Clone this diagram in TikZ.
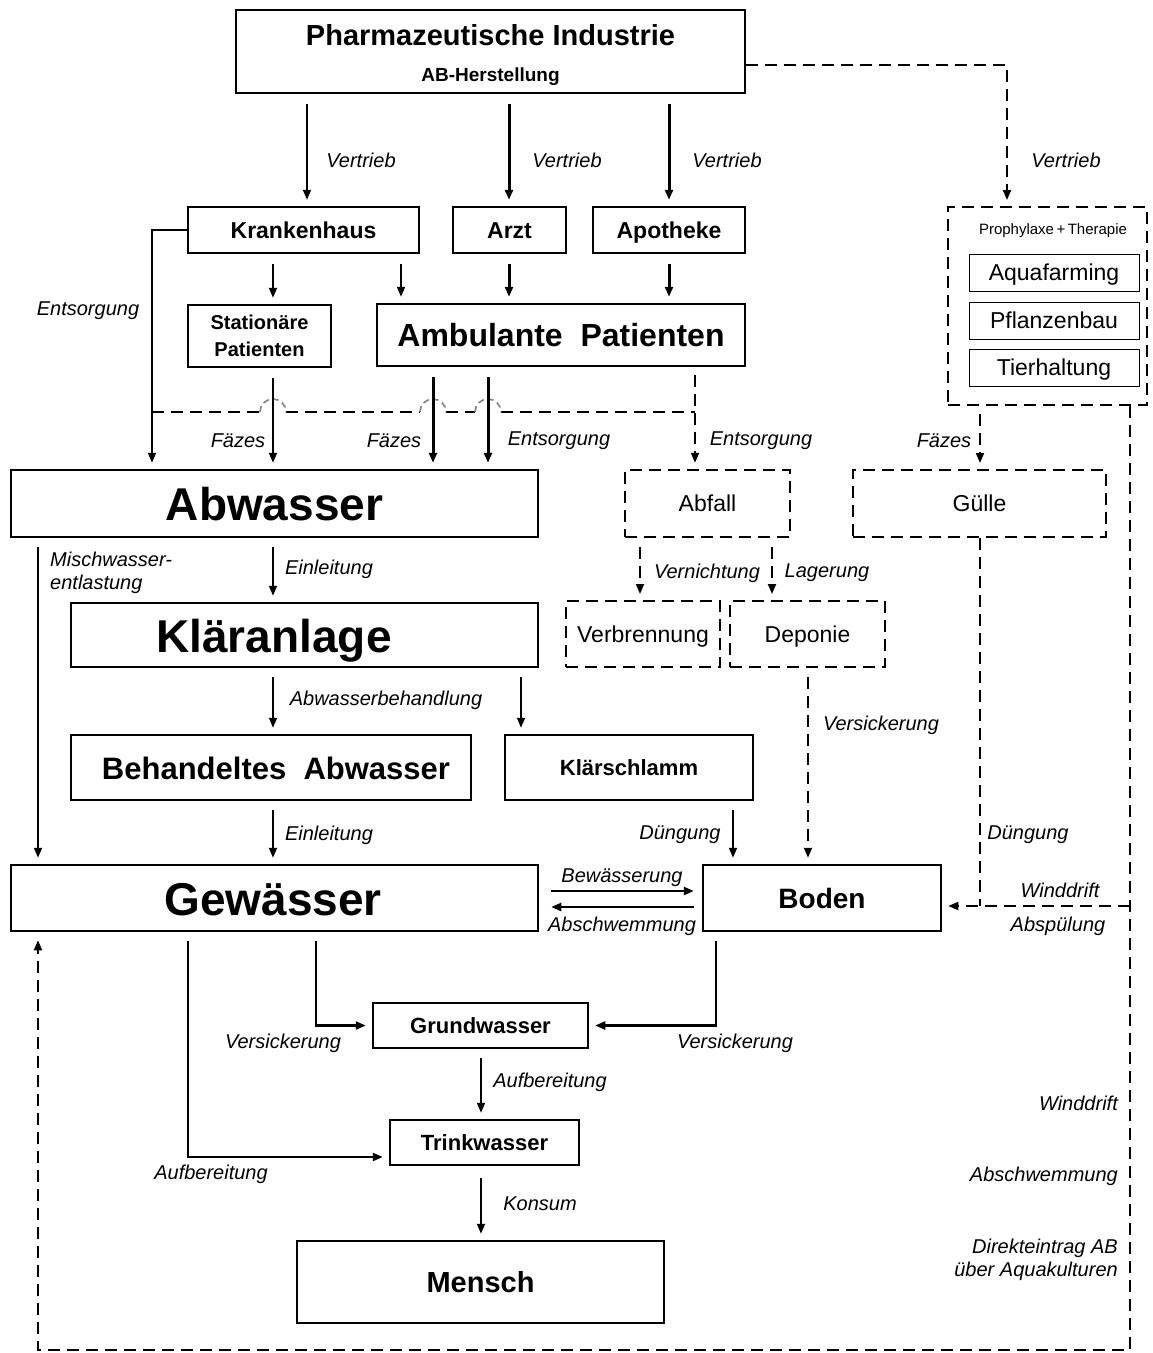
\documentclass[tikz,border=0pt]{standalone}
\usepackage{fontspec}
\setmainfont{Liberation Sans}
\usetikzlibrary{arrows.meta}
\newcommand{\fs}[1]{\fontsize{#1}{#1}\selectfont}
\begin{document}
\begin{tikzpicture}[x=1pt,y=-1pt,
  bf/.style={font=\bfseries\fs{#1}, text height={0.72*#1pt}, text depth=0pt},
  rg/.style={font=\fs{#1}, text height={0.72*#1pt}, text depth=0pt},
  box/.style={draw, line width=2.5pt, inner sep=0pt, align=center},
  dbox/.style={draw, line width=2pt, dash pattern=on 12pt off 7pt, inner sep=0pt, align=center},
  ibox/.style={draw, line width=1pt, inner sep=0pt, align=center, rg=23},
  tip/.style={-{Triangle[length=10pt,width=8pt]}},
  arr/.style={tip, line width=1.8pt, shorten >=6pt},
  tarr/.style={tip, line width=3pt, shorten >=6pt},
  darr/.style={tip, line width=1.8pt, dash pattern=on 12pt off 7pt, shorten >=6pt},
  dline/.style={line width=1.8pt, dash pattern=on 12pt off 7pt},
  hump/.style={line width=1.6pt, gray, dash pattern=on 6pt off 4pt},
  lab/.style={font=\itshape\fs{20}, inner sep=0pt},
]
\useasboundingbox[fill=white] (0,0) rectangle (1153,1353);

% boxes
\node[box, minimum width=509pt, minimum height=83pt] (pharma) at (490.5,51.5) {};
\node[inner sep=0pt, bf=29] (pharmaA) at (490.5,35) {Pharmazeutische Industrie};
\node[inner sep=0pt, bf=19] (pharmaB) at (490.5,75) {AB-Herstellung};
\node[box, minimum width=231pt, minimum height=46pt, bf=23] (kh) at (303.5,230) {Krankenhaus};
\node[box, minimum width=113pt, minimum height=46pt, bf=23] (arzt) at (509.5,230) {Arzt};
\node[box, minimum width=152pt, minimum height=46pt, bf=23] (apo) at (669,230) {Apotheke};
\node[box, minimum width=143pt, minimum height=62pt, font=\bfseries\fontsize{20}{27}\selectfont] (stat) at (259.5,336) {Stationäre\\Patienten};
\node[box, minimum width=368pt, minimum height=62pt, bf=32] (amb) at (561,335) {Ambulante\ \ Patienten};
\node[box, minimum width=527pt, minimum height=67pt, bf=46] (abw) at (274.5,503.5) {Abwasser};
\node[box, minimum width=467pt, minimum height=64pt] (klaer) at (304.5,635) {};
\node[inner sep=0pt, bf=46] (klaerT) at (274,636) {Kläranlage};
\node[box, minimum width=400pt, minimum height=65pt] (beh) at (271,767.5) {};
\node[inner sep=0pt, bf=31] (behT) at (276,768) {Behandeltes\ \ Abwasser};
\node[box, minimum width=248pt, minimum height=65pt, bf=22] (kls) at (629,767.5) {Klärschlamm};
\node[box, minimum width=527pt, minimum height=66pt] (gew) at (274.5,898) {};
\node[inner sep=0pt, bf=46] (gewT) at (273,899) {Gewässer};
\node[box, minimum width=238pt, minimum height=66pt, bf=28] (boden) at (822,898) {Boden};
\node[box, minimum width=215pt, minimum height=45pt, bf=22] (grund) at (480.5,1025.5) {Grundwasser};
\node[box, minimum width=189pt, minimum height=45pt, bf=22] (trink) at (484.5,1142.5) {Trinkwasser};
\node[box, minimum width=367pt, minimum height=82pt, bf=29] (mensch) at (480.5,1282) {Mensch};

% dashed boxes
\node[dbox, minimum width=199pt, minimum height=198pt] (proph) at (1047.5,306) {};
\node[inner sep=0pt, rg=15] (prophT) at (1053,229) {Prophylaxe\,+\,Therapie};
\node[ibox, minimum width=170pt, minimum height=37pt] (aqua) at (1054,272.5) {Aquafarming};
\node[ibox, minimum width=170pt, minimum height=37pt] (pfl) at (1054,320.5) {Pflanzenbau};
\node[ibox, minimum width=170pt, minimum height=37pt] (tier) at (1054,367.5) {Tierhaltung};
\node[dbox, line width=2.4pt, minimum width=165pt, minimum height=67pt, rg=23] (abfall) at (707.5,503.5) {Abfall};
\node[dbox, minimum width=253pt, minimum height=67pt, rg=23] (guelle) at (979.5,503.5) {Gülle};
\node[dbox, minimum width=154pt, minimum height=66pt, rg=23] (verb) at (643,634) {Verbrennung};
\node[dbox, minimum width=155pt, minimum height=66pt, rg=23] (dep) at (807.5,634) {Deponie};

% Vertrieb
\draw[arr, shorten <=10pt] (307,0 |- pharma.south) -- (307,0 |- kh.north);
\draw[tarr, shorten <=10pt] (509,0 |- pharma.south) -- (509,0 |- arzt.north);
\draw[tarr, shorten <=10pt] (669,0 |- pharma.south) -- (669,0 |- apo.north);
\draw[darr] (pharma.east |- 0,65) -- (1007,65) -- (1007,0 |- proph.north);
\node[lab] (v1) at (361,160) {Vertrieb};
\node[lab] (v2) at (567,160) {Vertrieb};
\node[lab] (v3) at (727,160) {Vertrieb};
\node[lab] (v4) at (1066,160) {Vertrieb};

% to patients
\draw[arr, shorten <=10pt] (273,0 |- kh.south) -- (273,0 |- stat.north);
\draw[arr, shorten <=10pt] (401,0 |- kh.south) -- (401,0 |- amb.north);
\draw[tarr, shorten <=10pt] (509,0 |- arzt.south) -- (509,0 |- amb.north);
\draw[tarr, shorten <=10pt] (669,0 |- apo.south) -- (669,0 |- amb.north);

% Entsorgung Krankenhaus
\draw[arr] (kh.west) -- (152,0 |- kh.west) -- (152,0 |- abw.north);
\node[lab] (e1) at (88,311) {Entsorgung};

% dashed cross line with humps
\draw[dline] (152,412) -- (260,412) (286,412) -- (420,412) (446,412) -- (475,412) (501,412) -- (695,412);
\draw[hump] (260,412) arc[start angle=180, end angle=360, radius=13];
\draw[hump] (420,412) arc[start angle=180, end angle=360, radius=13];
\draw[hump] (475,412) arc[start angle=180, end angle=360, radius=13];
\draw[darr, shorten <=8pt] (695,0 |- amb.south) -- (695,0 |- abfall.north);

% to Abwasser
\draw[arr, shorten <=10pt] (273,0 |- stat.south) -- (273,0 |- abw.north);
\draw[tarr, shorten <=10pt] (433,0 |- amb.south) -- (433,0 |- abw.north);
\draw[tarr, shorten <=10pt] (488,0 |- amb.south) -- (488,0 |- abw.north);
\node[lab] (f1) at (238,441) {Fäzes};
\node[lab] (f2) at (394,441) {Fäzes};
\node[lab] (e2) at (559,441) {Entsorgung};
\node[lab] (e3) at (761,441) {Entsorgung};

% Prophylaxe -> Guelle
\draw[darr, shorten <=8pt] (980,0 |- proph.south) -- (980,0 |- guelle.north);
\node[lab] (f3) at (944,441) {Fäzes};

% Abwasser -> Klaeranlage
\draw[arr, shorten <=9pt] (273,0 |- abw.south) -- (273,0 |- klaer.north);
\node[lab] (ein1) at (329,569) {Einleitung};
\draw[arr, shorten <=9pt] (38,0 |- abw.south) -- (38,0 |- gew.north);
\node[lab, align=left, anchor=west, font=\itshape\fontsize{20}{23}\selectfont] (misch) at (50,573) {Mischwasser-\\entlastung};

% Abfall
\draw[darr, shorten <=9pt] (640,0 |- abfall.south) -- (640,0 |- verb.north);
\draw[darr, shorten <=9pt] (772,0 |- abfall.south) -- (772,0 |- dep.north);
\node[lab] (vern) at (707,573) {Vernichtung};
\node[lab] (lag) at (827,573) {Lagerung};

% Klaeranlage
\draw[arr, shorten <=9pt] (273,0 |- klaer.south) -- (273,0 |- beh.north);
\draw[arr, shorten <=9pt] (521,0 |- klaer.south) -- (521,0 |- kls.north);
\node[lab] (abwb) at (386,700) {Abwasserbehandlung};

% Deponie -> Boden
\draw[darr, shorten <=9pt] (808,0 |- dep.south) -- (808,0 |- boden.north);
\node[lab] (vs1) at (881,725) {Versickerung};

% to Gewaesser / Boden
\draw[arr, shorten <=9pt] (273,0 |- beh.south) -- (273,0 |- gew.north);
\draw[arr, shorten <=9pt] (733,0 |- kls.south) -- (733,0 |- boden.north);
\node[lab] (ein2) at (329,835) {Einleitung};
\node[lab] (dg1) at (680,835) {Düngung};

% Guelle -> Boden, Winddrift
\draw[dline] (980,0 |- guelle.south) -- (980,906);
\draw[darr] (1130,906) -- (boden.east |- 0,906);
\node[lab] (dg2) at (1028,835) {Düngung};
\node[lab] (wd1) at (1060,890) {Winddrift};
\node[lab] (asp) at (1058,926) {Abspülung};

% big loop
\draw[darr, shorten >=8pt] (1130,0 |- proph.south) -- (1130,1350) -- (38,1350) -- (38,0 |- gew.south);
\node[lab, anchor=east] (wd2) at (1118,1103) {Winddrift};
\node[lab, anchor=east] (asw2) at (1118,1176) {Abschwemmung};
\node[lab, anchor=east, align=right, font=\itshape\fontsize{20}{23}\selectfont] (dir) at (1118,1259.5) {Direkteintrag AB\\über Aquakulturen};

% Gewaesser <-> Boden
\draw[arr, line width=2.4pt, shorten <=12pt, shorten >=8pt] (gew.east |- 0,891) -- (boden.west |- 0,891);
\draw[arr, line width=2.4pt, shorten <=8pt, shorten >=12pt] (boden.west |- 0,907) -- (gew.east |- 0,907);
\node[lab] (bew) at (622,878) {Bewässerung};
\node[lab] (asw1) at (622,926) {Abschwemmung};

% Grundwasser
\draw[arr, line width=2.2pt, shorten <=9pt] (316,0 |- gew.south) -- (316,0 |- grund.west) -- (grund.west);
\draw[arr, line width=2.2pt, shorten <=9pt] (716,0 |- boden.south) -- (716,0 |- grund.east) -- (grund.east);
\node[lab] (vs2) at (283,1043) {Versickerung};
\node[lab] (vs3) at (735,1043) {Versickerung};

% Trinkwasser
\draw[arr, shorten <=9pt] (481,0 |- grund.south) -- (481,0 |- trink.north);
\node[lab] (auf1) at (550,1082) {Aufbereitung};
\draw[arr, line width=2.2pt, shorten <=9pt] (188,0 |- gew.south) -- (188,1157) -- (trink.west |- 0,1157);
\node[lab] (auf2) at (211,1174) {Aufbereitung};
\draw[arr, shorten <=12pt] (481,0 |- trink.south) -- (481,0 |- mensch.north);
\node[lab] (kon) at (540,1204) {Konsum};
\end{tikzpicture}
\end{document}
